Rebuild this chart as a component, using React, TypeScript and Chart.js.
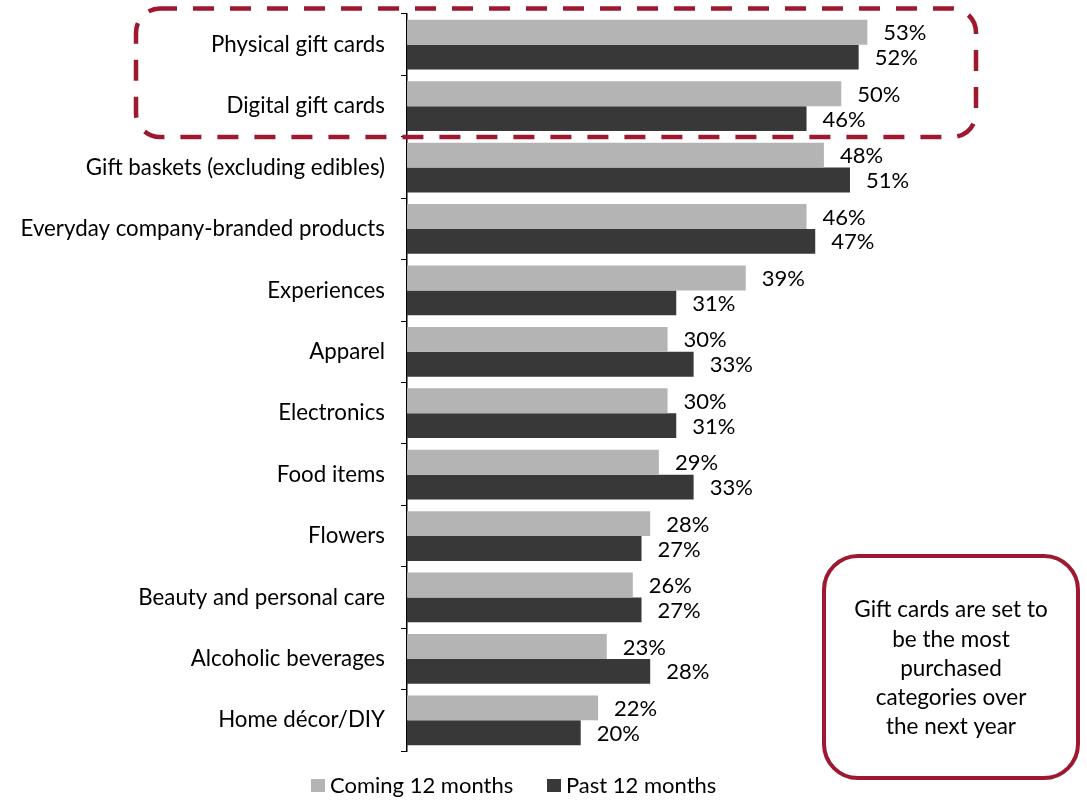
import React, { useEffect, useRef } from "react";
import { Chart, registerables } from "chart.js";

Chart.register(...registerables);

const categories = [
  "Physical gift cards",
  "Digital gift cards",
  "Gift baskets (excluding edibles)",
  "Everyday company-branded products",
  "Experiences",
  "Apparel",
  "Electronics",
  "Food items",
  "Flowers",
  "Beauty and personal care",
  "Alcoholic beverages",
  "Home décor/DIY",
];
const seriesNames = ["Coming 12 months", "Past 12 months"];
const coming12 = [53, 50, 48, 46, 39, 30, 30, 29, 28, 26, 23, 22];
const past12 = [52, 46, 51, 47, 31, 33, 31, 33, 27, 27, 28, 20];
const calloutLines = [
  "Gift cards are set to",
  "be the most",
  "purchased",
  "categories over",
  "the next year",
];

const FONT = "Lato, 'Open Sans', sans-serif";
const LIGHT = "#B4B4B4";
const DARK = "#383838";
const RED = "#9E1830";

function roundRect(ctx: CanvasRenderingContext2D, x: number, y: number, w: number, h: number, r: number) {
  ctx.beginPath();
  ctx.moveTo(x + r, y);
  ctx.lineTo(x + w - r, y);
  ctx.arcTo(x + w, y, x + w, y + r, r);
  ctx.lineTo(x + w, y + h - r);
  ctx.arcTo(x + w, y + h, x + w - r, y + h, r);
  ctx.lineTo(x + r, y + h);
  ctx.arcTo(x, y + h, x, y + h - r, r);
  ctx.lineTo(x, y + r);
  ctx.arcTo(x, y, x + r, y, r);
  ctx.closePath();
}

const overlayPlugin = {
  id: "overlay",
  afterDatasetsDraw(chart: any) {
    const ctx: CanvasRenderingContext2D = chart.ctx;
    ctx.save();
    ctx.font = `22px ${FONT}`;
    ctx.fillStyle = "#000";
    ctx.textAlign = "left";
    ctx.textBaseline = "middle";
    chart.data.datasets.forEach((ds: any, di: number) => {
      const meta = chart.getDatasetMeta(di);
      meta.data.forEach((el: any, i: number) => {
        ctx.fillText(`${ds.data[i]}%`, el.x + 16, el.y + 1);
      });
    });
    ctx.restore();
  },
  afterDraw(chart: any) {
    const ctx: CanvasRenderingContext2D = chart.ctx;
    ctx.save();
    // dashed highlight box
    ctx.strokeStyle = RED;
    ctx.lineWidth = 4.5;
    ctx.setLineDash([21, 16]);
    ctx.lineDashOffset = 4;
    roundRect(ctx, 136, 8.5, 840, 128.5, 24);
    ctx.stroke();
    ctx.setLineDash([]);
    // callout box
    ctx.lineWidth = 4;
    roundRect(ctx, 824, 556, 254, 222, 34);
    ctx.fillStyle = "#fff";
    ctx.fill();
    ctx.stroke();
    ctx.fillStyle = "#000";
    ctx.font = `22.5px ${FONT}`;
    ctx.textAlign = "center";
    ctx.textBaseline = "middle";
    calloutLines.forEach((t, i) => ctx.fillText(t, 951, 610 + i * 29.3));
    // legend
    ctx.textAlign = "left";
    ctx.font = `22px ${FONT}`;
    const legendItems = [
      { x: 311, color: LIGHT, label: seriesNames[0] },
      { x: 547, color: DARK, label: seriesNames[1] },
    ];
    legendItems.forEach((it) => {
      ctx.fillStyle = it.color;
      ctx.fillRect(it.x, 779, 14, 13);
      ctx.fillStyle = "#000";
      ctx.fillText(it.label, it.x + 19, 786);
    });
    ctx.restore();
  },
};

export default function App() {
  const ref = useRef<HTMLCanvasElement>(null);
  useEffect(() => {
    if (!ref.current) return;
    const chart = new Chart(ref.current, {
      type: "bar",
      data: {
        labels: categories,
        datasets: [
          { label: seriesNames[0], data: coming12, backgroundColor: LIGHT, categoryPercentage: 0.81, barPercentage: 1 },
          { label: seriesNames[1], data: past12, backgroundColor: DARK, categoryPercentage: 0.81, barPercentage: 1 },
        ],
      },
      options: {
        indexAxis: "y",
        responsive: false,
        animation: false,
        layout: { padding: { top: 14, bottom: 51, left: 0, right: 72 } },
        plugins: { legend: { display: false }, tooltip: { enabled: false } },
        scales: {
          x: { display: false, min: 0, max: 70 },
          y: {
            grid: { display: true, drawOnChartArea: false, drawTicks: true, tickLength: 6, color: "#000", offset: true },
            border: { display: true, color: "#000", width: 1.5 },
            ticks: { color: "#000", padding: 16, font: { family: FONT, size: 22.3 } },
            afterFit: (s: any) => {
              s.width = 407;
              s.paddingTop = 0;
              s.paddingBottom = 0;
            },
          },
        },
      },
      plugins: [overlayPlugin],
    });
    return () => chart.destroy();
  }, []);
  return (
    <div style={{ position: "fixed", left: 0, top: 0, width: 1087, height: 802, background: "#fff" }}>
      <canvas ref={ref} width={1087} height={802} style={{ width: 1087, height: 802 }} />
    </div>
  );
}
